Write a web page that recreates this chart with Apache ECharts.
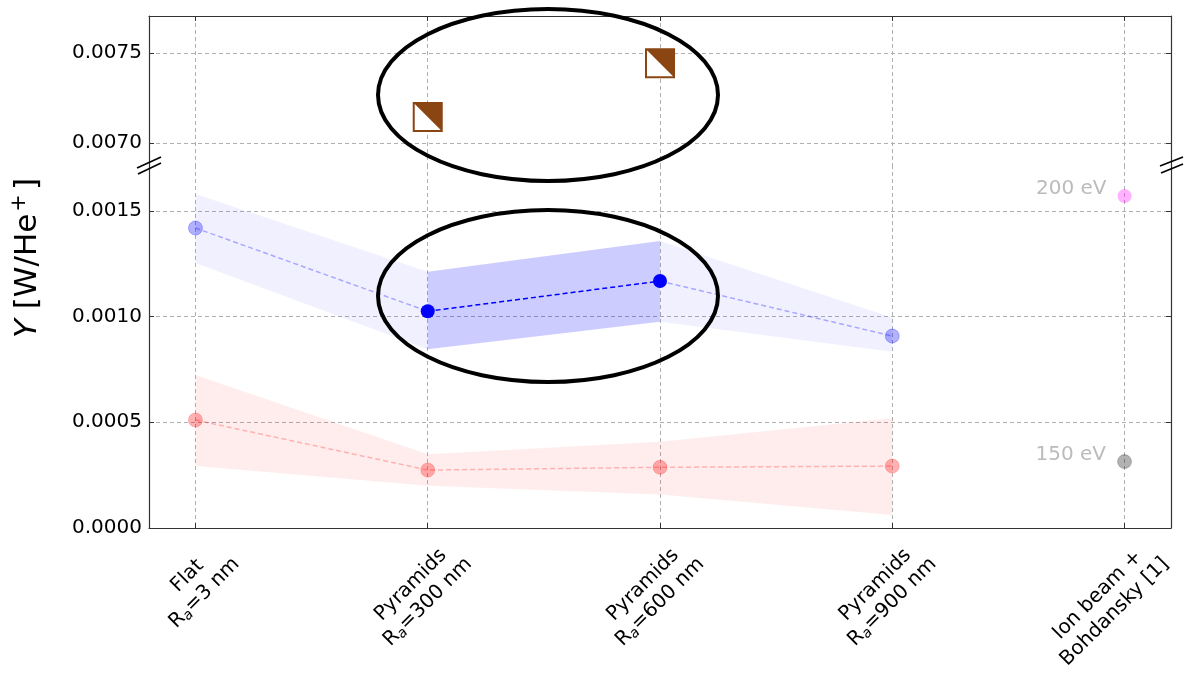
<!DOCTYPE html>
<html>
<head>
<meta charset="utf-8">
<script src="https://cdn.jsdelivr.net/npm/echarts@6/dist/echarts.min.js"></script>
<style>
  html, body { margin: 0; padding: 0; background: #fff; }
  #main { width: 1194px; height: 674px; }
</style>
</head>
<body>
<div id="main"></div>
<script>
const FONT = 'DejaVu Sans';

// x positions (0..3 surfaces, 4 = ion beam reference)
const xIndex = [0, 1, 2, 3];
const labelLine1 = ['Flat', 'Pyramids', 'Pyramids', 'Pyramids', 'Ion beam +'];
const labelLine2 = ['R_a=3 nm', 'R_a=300 nm', 'R_a=600 nm', 'R_a=900 nm', 'Bohdansky [1]'];

// blue series (mean and band)
const blueMean = [0.001419, 0.001025, 0.001168, 0.000908];
const blueUpper = [0.00158, 0.001212, 0.001358, 0.000996];
const blueLower = [0.001254, 0.000845, 0.000976, 0.000834];
const highlight = [1, 2];

// red series
const redMean = [0.000511, 0.000274, 0.000287, 0.000293];
const redUpper = [0.000724, 0.000349, 0.000408, 0.000519];
const redLower = [0.000293, 0.0002, 0.000159, 0.0000615];

// ion beam references
const ionX = 4;
const ionValues = [0.00157, 0.000314];
const ionLabels = ['200 eV', '150 eV'];

// upper panel squares
const topX = [1, 2];
const topValues = [0.007146, 0.007443];

// tick values
const xTicks = [0, 1, 2, 3, 4];
const yTicksTop = [0.007, 0.0075];
const yTicksBottom = [0, 0.0005, 0.001, 0.0015];

const GRID_COLOR = '#b0b0b0';
const SPINE = '#333';

function pairs(xs, ys) {
  return xs.map(function (x, i) { return [x, ys[i]]; });
}
function pick(idx, ys) {
  return idx.map(function (i) { return [i, ys[i]]; });
}
function richLine(s) {
  if (s.indexOf('R_a') === 0) return '{t|R}{s|a}{t|' + s.slice(3) + '}';
  return '{t|' + s + '}';
}

var chart = echarts.init(document.getElementById('main'));

function xAxisOf(grid, pos, labels) {
  return {
    type: 'value', gridIndex: grid, position: pos, min: -0.2, max: 4.2,
    axisLine: { show: true, onZero: false, lineStyle: { color: SPINE, width: 1.2 } },
    axisTick: { show: true, inside: true, length: 5, customValues: xTicks, lineStyle: { color: SPINE } },
    axisLabel: labels ? {
      customValues: xTicks,
      rotate: 45,
      align: 'right',
      verticalAlign: 'top',
      margin: -8,
      padding: [22, 0, 0, 0],
      formatter: function (v) {
        var i = Math.round(v);
        return richLine(labelLine1[i]) + '\n' + richLine(labelLine2[i]);
      },
      rich: {
        t: { fontSize: 20, fontFamily: FONT, color: '#000', align: 'center', lineHeight: 24 },
        s: { fontSize: 14, fontFamily: FONT, fontStyle: 'italic', color: '#000', align: 'center', lineHeight: 24, padding: [9, 0, 0, 0] }
      }
    } : { show: false },
    splitLine: { show: true, lineStyle: { color: GRID_COLOR, type: [4, 3], width: 1 } }
  };
}

function yAxisOf(grid, pos, min, max, ticks, labels) {
  return {
    type: 'value', gridIndex: grid, position: pos, min: min, max: max,
    axisLine: { show: true, onZero: false, lineStyle: { color: SPINE, width: 1.2 } },
    axisTick: { show: true, inside: true, length: 5, customValues: ticks, lineStyle: { color: SPINE } },
    axisLabel: labels ? {
      customValues: ticks, margin: 7, color: '#000', fontSize: 20, fontFamily: FONT,
      formatter: function (v) { return v.toFixed(4); }
    } : { show: false },
    splitLine: { show: labels, lineStyle: { color: GRID_COLOR, type: [4, 3], width: 1 } }
  };
}

// shaded band between lo and hi, drawn as one polygon through the axis scales
function band(xs, lo, hi, color, op) {
  return {
    type: 'custom', xAxisIndex: 1, yAxisIndex: 2, silent: true, z: 1,
    data: [[xs[0], lo[0]]],
    renderItem: function (params, api) {
      var top = xs.map(function (x, i) { return api.coord([x, hi[i]]); });
      var bot = xs.map(function (x, i) { return api.coord([x, lo[i]]); }).reverse();
      return { type: 'polygon', shape: { points: top.concat(bot) }, style: { fill: color, opacity: op } };
    }
  };
}

var light = xIndex.filter(function (i) { return highlight.indexOf(i) < 0; });
var leftSeg = xIndex.filter(function (i) { return i <= highlight[0]; });
var rightSeg = xIndex.filter(function (i) { return i >= highlight[highlight.length - 1]; });

var series = [
  band(xIndex, blueLower, blueUpper, '#0000ff', 0.06),
  band(highlight, highlight.map(function (i) { return blueLower[i]; }),
    highlight.map(function (i) { return blueUpper[i]; }), '#0000ff', 0.15),
  band(xIndex, redLower, redUpper, '#ff0000', 0.07),
  {
    type: 'line', xAxisIndex: 1, yAxisIndex: 2, data: pick(leftSeg, blueMean), symbol: 'none', z: 3,
    lineStyle: { color: 'rgba(0,0,255,0.3)', type: [5, 3], width: 1.5 }
  },
  {
    type: 'line', xAxisIndex: 1, yAxisIndex: 2, data: pick(rightSeg, blueMean), symbol: 'none', z: 3,
    lineStyle: { color: 'rgba(0,0,255,0.3)', type: [5, 3], width: 1.5 }
  },
  {
    type: 'line', xAxisIndex: 1, yAxisIndex: 2, data: pick(highlight, blueMean), symbol: 'none', z: 3,
    lineStyle: { color: '#0000ff', type: [5, 3], width: 1.5 }
  },
  {
    type: 'scatter', xAxisIndex: 1, yAxisIndex: 2, data: pick(light, blueMean), symbolSize: 14, z: 4,
    itemStyle: { color: 'rgba(0,0,255,0.3)', borderColor: 'rgba(0,0,255,0.25)', borderWidth: 1, opacity: 1 }
  },
  {
    type: 'scatter', xAxisIndex: 1, yAxisIndex: 2, data: pick(highlight, blueMean), symbolSize: 14, z: 4,
    itemStyle: { color: '#0000ff', opacity: 1 }
  },
  {
    type: 'line', xAxisIndex: 1, yAxisIndex: 2, data: pairs(xIndex, redMean), z: 3,
    symbol: 'circle', symbolSize: 14, showSymbol: true,
    itemStyle: { color: 'rgba(255,0,0,0.3)', borderColor: 'rgba(255,0,0,0.2)', borderWidth: 1, opacity: 1 },
    lineStyle: { color: 'rgba(255,0,0,0.25)', type: [5, 3], width: 1.5 }
  },
  {
    type: 'scatter', xAxisIndex: 1, yAxisIndex: 2, symbolSize: 14, z: 4,
    data: ionValues.map(function (v, i) {
      return {
        value: [ionX, v],
        itemStyle: i === 0
          ? { color: 'rgba(255,0,255,0.3)', opacity: 1 }
          : { color: 'rgba(0,0,0,0.3)', borderColor: 'rgba(0,0,0,0.2)', borderWidth: 1, opacity: 1 }
      };
    }),
    label: {
      show: true, position: 'left', distance: 11, offset: [0, -7],
      color: '#bbbbbb', fontSize: 20, fontFamily: FONT,
      formatter: function (p) { return ionLabels[p.dataIndex]; }
    }
  },
  {
    type: 'scatter', xAxisIndex: 0, yAxisIndex: 0, data: pairs(topX, topValues), z: 4,
    symbol: 'rect', symbolSize: 28,
    itemStyle: { color: '#ffffff', borderColor: '#8B4513', borderWidth: 2, opacity: 1 }
  },
  {
    type: 'scatter', xAxisIndex: 0, yAxisIndex: 0, data: pairs(topX, topValues), z: 5,
    symbol: 'path://M0,0L10,0L10,10Z', symbolSize: 28,
    itemStyle: { color: '#8B4513', opacity: 1 }
  }
];

var breakStyle = { stroke: '#000', lineWidth: 1.6 };

chart.setOption({
  animation: false,
  backgroundColor: '#fff',
  grid: [
    { left: 149, right: 23, top: 16, height: 149, containLabel: false, outerBoundsMode: 'none' },
    { left: 149, right: 23, top: 165, height: 363, containLabel: false, outerBoundsMode: 'none' }
  ],
  xAxis: [xAxisOf(0, 'top', false), xAxisOf(1, 'bottom', true)],
  yAxis: [
    yAxisOf(0, 'left', 0.0068794, 0.0077056, yTicksTop, true),
    yAxisOf(0, 'right', 0.0068794, 0.0077056, yTicksTop, false),
    yAxisOf(1, 'left', 0, 0.001717, yTicksBottom, true),
    yAxisOf(1, 'right', 0, 0.001717, yTicksBottom, false)
  ],
  series: series,
  graphic: [
    {
      type: 'text', x: 28, y: 258, rotation: Math.PI / 2,
      style: {
        text: '{i|Y}{n| [W/He}{p|+}{n|]}',
        align: 'center', verticalAlign: 'middle',
        rich: {
          i: { fontSize: 31, fontFamily: FONT, fontStyle: 'italic', fill: '#000' },
          n: { fontSize: 31, fontFamily: FONT, fill: '#000' },
          p: { fontSize: 21, fontFamily: FONT, fill: '#000', padding: [0, 4, 16, 2] }
        }
      }
    },
    { type: 'ellipse', shape: { cx: 548, cy: 95, rx: 170, ry: 86 }, style: { fill: 'none', stroke: '#000', lineWidth: 4 }, z: 100 },
    { type: 'ellipse', shape: { cx: 548, cy: 296, rx: 170, ry: 86 }, style: { fill: 'none', stroke: '#000', lineWidth: 4 }, z: 100 },
    { type: 'line', shape: { x1: 137, y1: 168, x2: 161, y2: 157 }, style: breakStyle, z: 100 },
    { type: 'line', shape: { x1: 138, y1: 174, x2: 161, y2: 163 }, style: breakStyle, z: 100 },
    { type: 'line', shape: { x1: 1160, y1: 166, x2: 1183, y2: 157 }, style: breakStyle, z: 100 },
    { type: 'line', shape: { x1: 1161, y1: 173, x2: 1183, y2: 164 }, style: breakStyle, z: 100 }
  ]
});
</script>
</body>
</html>
